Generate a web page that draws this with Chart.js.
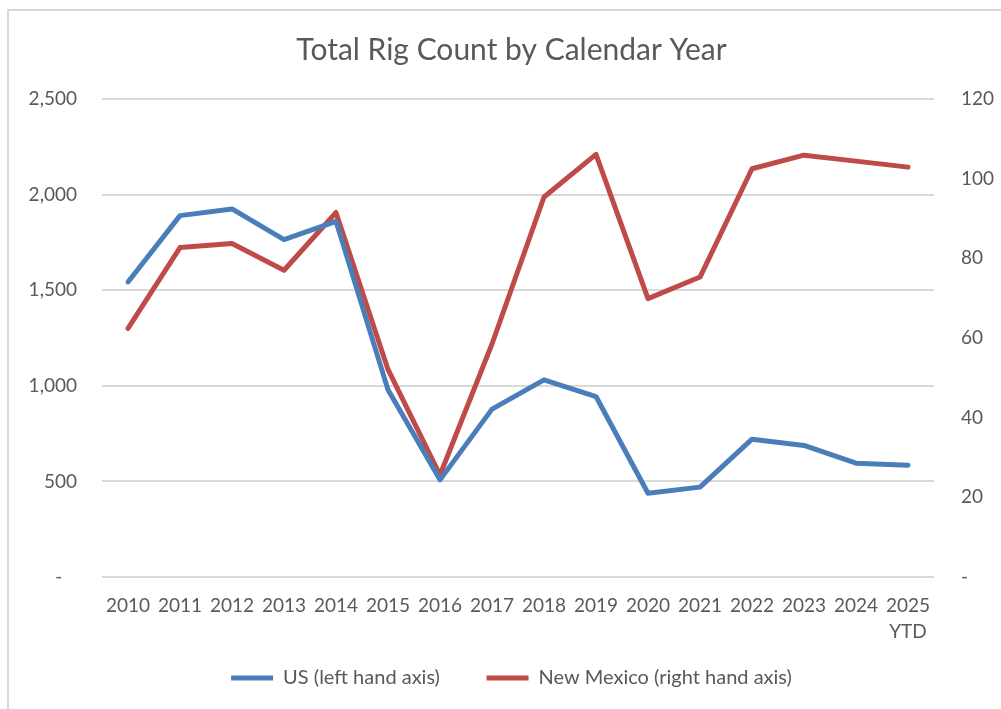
<!DOCTYPE html>
<html lang="en">

<head>
  <meta charset="UTF-8">
  <title>Total Rig Count by Calendar Year</title>
  <style>
    html, body { margin: 0; padding: 0; overflow: hidden; background: #fff; }
    #frame {
      position: absolute; left: 7px; top: 9px; width: 1100px; height: 800px;
      border: 2px solid #d9d9d9; box-sizing: border-box;
    }
    #wrap { position: absolute; left: 0; top: 0; width: 1001px; height: 709px; }
  </style>
</head>

<body>
  <div id="frame"></div>
  <div id="wrap"><canvas id="myChart" width="1001" height="709"></canvas></div>

  <script src="https://cdn.jsdelivr.net/npm/chart.js"></script>
  <script>
    // tick labels on the x axis
    const years = ['2010', '2011', '2012', '2013', '2014', '2015', '2016', '2017',
      '2018', '2019', '2020', '2021', '2022', '2023', '2024', ['2025', 'YTD']];
    // US rigs (left axis)
    const usRigs = [1543, 1890, 1925, 1765, 1860, 979, 508, 878, 1031, 944, 438, 470, 721, 688, 595, 585];
    // New Mexico rigs (right axis)
    const nmRigs = [62.4, 82.7, 83.7, 77.0, 91.5, 52.1, 25.6, 58.5, 95.4, 106.1, 69.9, 75.3, 102.5, 105.9, 104.4, 102.9];

    const grey = '#595959';
    const font = 'Lato';

    // keep legend block at a fixed height so the plot sits where it should
    const legendHeight = {
      id: 'legendHeight',
      afterInit(chart) {
        const lg = chart.legend;
        const fit = lg.fit;
        lg.fit = function () {
          fit.call(this);
          this.height = 62;
        };
      }
    };

    const ctx = document.getElementById('myChart');
    const chart = new Chart(ctx, {
      type: 'line',
      data: {
        labels: years,
        datasets: [{
          label: 'US (left hand axis)     ',
          data: usRigs,
          yAxisID: 'y',
          borderColor: '#4a7ebb',
          backgroundColor: '#4a7ebb',
          borderWidth: 5,
          pointRadius: 0,
          tension: 0,
          borderCapStyle: 'round',
          borderJoinStyle: 'round'
        }, {
          label: 'New Mexico (right hand axis)',
          data: nmRigs,
          yAxisID: 'y2',
          borderColor: '#be4b48',
          backgroundColor: '#be4b48',
          borderWidth: 5,
          pointRadius: 0,
          tension: 0,
          borderCapStyle: 'round',
          borderJoinStyle: 'round'
        }]
      },
      plugins: [legendHeight],
      options: {
        responsive: false,
        animation: false,
        layout: { padding: { left: 22, right: 0, top: 0, bottom: 0 } },
        plugins: {
          title: {
            display: true,
            text: 'Total Rig Count by Calendar Year',
            color: grey,
            font: { family: font, size: 30, weight: 'normal' },
            padding: { top: 32, bottom: 31 }
          },
          legend: {
            position: 'bottom',
            labels: {
              color: grey,
              font: { family: font, size: 20 },
              boxWidth: 42,
              boxHeight: 5,
              padding: 21,
              generateLabels(c) {
                return c.data.datasets.map((ds, i) => ({
                  text: ds.label,
                  fillStyle: ds.borderColor,
                  strokeStyle: ds.borderColor,
                  lineWidth: 0,
                  fontColor: grey,
                  datasetIndex: i
                }));
              }
            }
          },
          tooltip: { enabled: false }
        },
        scales: {
          x: {
            offset: true,
            grid: { display: false, drawTicks: false },
            border: { display: false },
            ticks: {
              color: grey,
              font: { family: font, size: 19, lineHeight: 1.35 },
              padding: 16,
              maxRotation: 0,
              autoSkip: false
            },
            afterFit(scale) { scale.height = 70; }
          },
          y: {
            position: 'left',
            min: 0,
            max: 2500,
            grid: { color: '#d9d9d9', lineWidth: 2, drawTicks: false },
            border: { display: false },
            ticks: {
              stepSize: 500,
              color: grey,
              font: { family: font, size: 19 },
              padding: 25,
              callback: v => v === 0 ? '-   ' : v.toLocaleString('en-US')
            },
            afterFit(scale) { scale.width = 80; }
          },
          y2: {
            position: 'right',
            min: 0,
            max: 120,
            grid: { display: false, drawTicks: false },
            border: { display: false },
            ticks: {
              stepSize: 20,
              color: grey,
              font: { family: font, size: 19 },
              padding: 27,
              callback: v => v === 0 ? '-' : v
            },
            afterFit(scale) { scale.width = 67; }
          }
        }
      }
    });
  </script>
</body>

</html>
